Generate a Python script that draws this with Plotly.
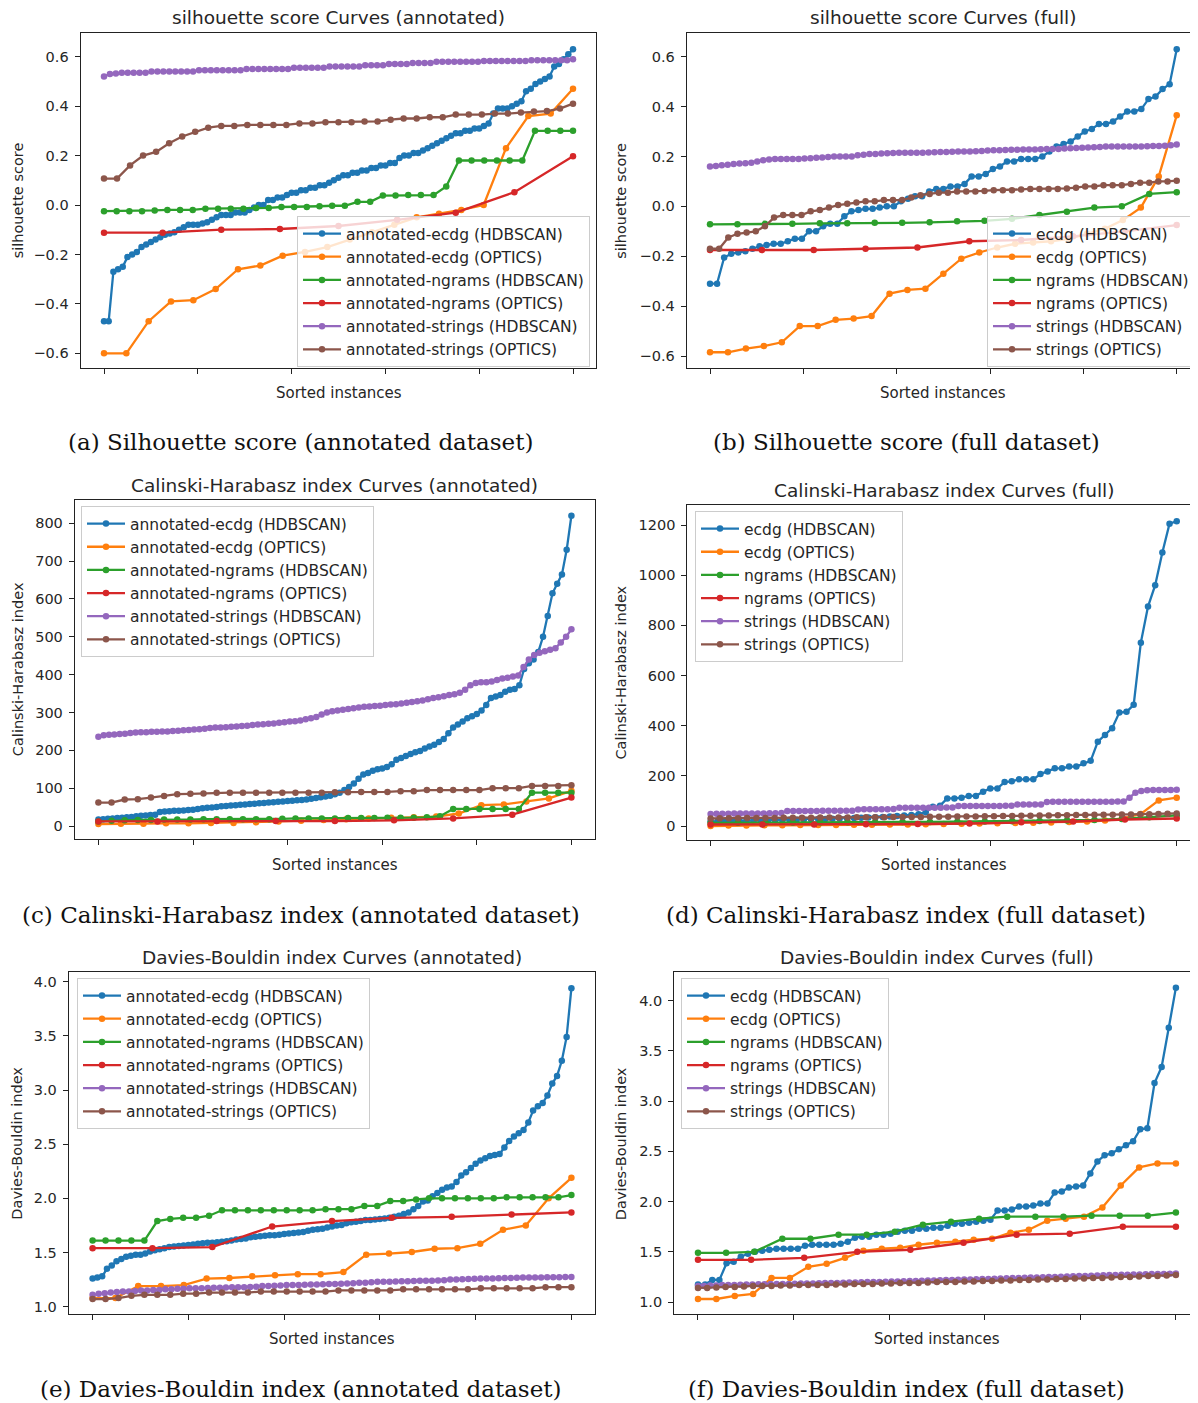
import plotly.graph_objects as go

# reference canvas; the html page adds an 8px body margin, so the figure is 8px smaller
W_REF, H_REF = 1198, 1403
OFF = 8
W, H = W_REF - OFF, H_REF - OFF

COLORS = ["#1f77b4", "#ff7f0e", "#2ca02c", "#d62728", "#9467bd", "#8c564b"]
METHODS = ["ecdg (HDBSCAN)", "ecdg (OPTICS)", "ngrams (HDBSCAN)",
           "ngrams (OPTICS)", "strings (HDBSCAN)", "strings (OPTICS)"]

X_TICKS = [0.0, 0.2, 0.4, 0.6, 0.8, 1.0]
SIL_TICKS = [-0.6, -0.4, -0.2, 0.0, 0.2, 0.4, 0.6]
CH_ANN_TICKS = [0, 100, 200, 300, 400, 500, 600, 700, 800]
CH_FULL_TICKS = [0, 200, 400, 600, 800, 1000, 1200]
DB_TICKS = [1.0, 1.5, 2.0, 2.5, 3.0, 3.5, 4.0]

# ---------------- (a) silhouette, annotated ----------------
A_ecdg_hdbscan = [-0.47, -0.47, -0.27, -0.26, -0.25, -0.21, -0.2, -0.19, -0.17, -0.16,
                  -0.15, -0.14, -0.13, -0.12, -0.115, -0.11, -0.1, -0.09, -0.08, -0.08,
                  -0.08, -0.075, -0.07, -0.06, -0.05, -0.04, -0.04, -0.04, -0.03, -0.03,
                  -0.03, -0.02, -0.01, 0.0, 0.0, 0.02, 0.02, 0.03, 0.03, 0.04,
                  0.05, 0.05, 0.06, 0.06, 0.07, 0.07, 0.08, 0.08, 0.09, 0.1,
                  0.11, 0.12, 0.12, 0.13, 0.13, 0.14, 0.14, 0.15, 0.15, 0.16,
                  0.16, 0.17, 0.17, 0.19, 0.2, 0.2, 0.21, 0.21, 0.22, 0.23,
                  0.24, 0.25, 0.26, 0.27, 0.28, 0.29, 0.29, 0.3, 0.3, 0.31,
                  0.31, 0.32, 0.33, 0.37, 0.39, 0.39, 0.39, 0.4, 0.41, 0.42,
                  0.46, 0.47, 0.49, 0.5, 0.51, 0.52, 0.56, 0.57, 0.59, 0.61,
                  0.63]
A_ecdg_optics = [-0.6, -0.6, -0.47, -0.39, -0.385, -0.34, -0.26, -0.245, -0.205, -0.19,
                 -0.17, -0.14, -0.11, -0.08, -0.05, -0.035, -0.02, 0.0, 0.23, 0.36,
                 0.37, 0.47]
A_ngrams_hdbscan = [-0.025, -0.025, -0.025, -0.025, -0.022, -0.02, -0.02, -0.02, -0.015, -0.015,
                    -0.015, -0.015, -0.012, -0.012, -0.008, -0.008, -0.008, -0.005, -0.003, -0.003,
                    0.013, 0.013, 0.038, 0.038, 0.04, 0.04, 0.04, 0.075, 0.18, 0.18,
                    0.18, 0.18, 0.18, 0.18, 0.3, 0.3, 0.3, 0.3]
A_ngrams_optics = [-0.112, -0.112, -0.1, -0.097, -0.085, -0.06, -0.031, 0.052, 0.197]
A_strings_hdbscan = [0.52, 0.53, 0.532, 0.535, 0.535, 0.535, 0.535, 0.535, 0.54, 0.54,
                     0.54, 0.54, 0.54, 0.54, 0.54, 0.54, 0.545, 0.545, 0.545, 0.545,
                     0.545, 0.545, 0.545, 0.545, 0.55, 0.55, 0.55, 0.55, 0.55, 0.55,
                     0.55, 0.55, 0.555, 0.555, 0.555, 0.555, 0.555, 0.555, 0.56, 0.56,
                     0.56, 0.56, 0.56, 0.56, 0.565, 0.565, 0.565, 0.565, 0.57, 0.57,
                     0.57, 0.57, 0.575, 0.575, 0.575, 0.575, 0.58, 0.58, 0.58, 0.58,
                     0.58, 0.58, 0.58, 0.58, 0.583, 0.583, 0.583, 0.583, 0.583, 0.583,
                     0.583, 0.583, 0.586, 0.586, 0.586, 0.586, 0.586, 0.586, 0.586, 0.59]
A_strings_optics = [0.107, 0.107, 0.16, 0.2, 0.215, 0.25, 0.277, 0.296, 0.313, 0.32,
                    0.32, 0.324, 0.324, 0.324, 0.324, 0.33, 0.33, 0.335, 0.335, 0.335,
                    0.338, 0.338, 0.345, 0.35, 0.35, 0.355, 0.355, 0.366, 0.366, 0.366,
                    0.37, 0.37, 0.374, 0.378, 0.38, 0.39, 0.41]

# ---------------- (b) silhouette, full ----------------
B_ecdg_hdbscan = [-0.31, -0.31, -0.205, -0.19, -0.185, -0.18, -0.17, -0.16, -0.155, -0.15,
                  -0.15, -0.14, -0.13, -0.13, -0.1, -0.1, -0.08, -0.07, -0.07, -0.04,
                  -0.02, -0.015, -0.01, -0.01, -0.005, 0.0, 0.0, 0.02, 0.03, 0.04,
                  0.04, 0.06, 0.07, 0.07, 0.08, 0.08, 0.09, 0.12, 0.12, 0.13,
                  0.15, 0.16, 0.18, 0.18, 0.19, 0.19, 0.19, 0.2, 0.22, 0.24,
                  0.25, 0.26, 0.28, 0.3, 0.31, 0.33, 0.33, 0.34, 0.36, 0.38,
                  0.38, 0.39, 0.43, 0.44, 0.47, 0.49, 0.63]
B_ecdg_optics = [-0.585, -0.585, -0.57, -0.56, -0.545, -0.48, -0.48, -0.455, -0.45, -0.44,
                 -0.35, -0.335, -0.33, -0.27, -0.21, -0.185, -0.165, -0.15, -0.145, -0.14,
                 -0.13, -0.11, -0.09, -0.055, -0.005, 0.12, 0.365]
B_ngrams_hdbscan = [-0.072, -0.072, -0.07, -0.07, -0.068, -0.068, -0.066, -0.066, -0.064, -0.06,
                    -0.058, -0.05, -0.035, -0.022, -0.005, 0.0, 0.05, 0.057]
B_ngrams_optics = [-0.175, -0.175, -0.175, -0.17, -0.165, -0.14, -0.135, -0.12, -0.1, -0.075]
B_strings_hdbscan = [0.16, 0.162, 0.165, 0.167, 0.17, 0.172, 0.173, 0.175, 0.18, 0.185,
                     0.188, 0.19, 0.19, 0.19, 0.19, 0.19, 0.192, 0.193, 0.195, 0.196,
                     0.198, 0.2, 0.2, 0.2, 0.2, 0.205, 0.207, 0.21, 0.21, 0.212,
                     0.213, 0.214, 0.215, 0.215, 0.215, 0.215, 0.215, 0.216, 0.217, 0.218,
                     0.218, 0.219, 0.22, 0.22, 0.22, 0.221, 0.222, 0.224, 0.225, 0.225,
                     0.226, 0.227, 0.227, 0.228, 0.228, 0.228, 0.229, 0.23, 0.23, 0.23,
                     0.232, 0.233, 0.234, 0.235, 0.236, 0.237, 0.238, 0.24, 0.24, 0.24,
                     0.24, 0.24, 0.24, 0.24, 0.241, 0.242, 0.242, 0.243, 0.245, 0.248]
B_strings_optics = [-0.17, -0.17, -0.125, -0.11, -0.105, -0.1, -0.08, -0.045, -0.035, -0.035,
                    -0.035, -0.02, -0.015, -0.005, 0.005, 0.01, 0.015, 0.02, 0.02, 0.025,
                    0.025, 0.025, 0.035, 0.045, 0.05, 0.055, 0.055, 0.06, 0.06, 0.06,
                    0.062, 0.065, 0.065, 0.065, 0.068, 0.07, 0.07, 0.07, 0.07, 0.072,
                    0.075, 0.08, 0.08, 0.085, 0.085, 0.085, 0.09, 0.095, 0.095, 0.1,
                    0.1, 0.103]

# ---------------- (c) Calinski-Harabasz, annotated ----------------
C_ecdg_hdbscan = [17, 18, 19, 20, 21, 22, 23, 24, 26, 27,
                  28, 29, 30, 37, 38, 39, 40, 40, 41, 42,
                  43, 45, 47, 48, 49, 50, 52, 53, 54, 55,
                  56, 57, 58, 59, 60, 61, 62, 63, 64, 65,
                  66, 67, 68, 69, 70, 72, 74, 76, 78, 80,
                  84, 88, 95, 103, 112, 125, 136, 140, 146, 150,
                  152, 156, 163, 175, 180, 185, 190, 195, 198, 205,
                  210, 215, 222, 230, 245, 260, 268, 276, 285, 290,
                  296, 305, 320, 338, 342, 346, 355, 360, 362, 372,
                  415, 430, 440, 460, 500, 555, 615, 640, 665, 730,
                  820]
C_ecdg_optics = [5, 6, 6, 7, 7, 8, 8, 10, 12, 14,
                 16, 18, 20, 22, 23, 25, 33, 55, 57, 65,
                 73, 93]
C_ngrams_hdbscan = [12, 14, 15, 16, 16, 17, 17, 17, 18, 18,
                    18, 18, 18, 18, 19, 20, 20, 20, 20, 21,
                    21, 21, 22, 22, 22, 23, 26, 45, 45, 45,
                    45, 45, 45, 88, 88, 88, 88]
C_ngrams_optics = [12, 12, 13, 13, 13, 15, 20, 30, 75]
C_strings_hdbscan = [236, 240, 241, 242, 243, 244, 246, 247, 248, 248,
                     249, 249, 250, 250, 251, 252, 253, 254, 255, 256,
                     257, 259, 260, 260, 261, 262, 263, 264, 265, 267,
                     268, 269, 270, 271, 273, 274, 276, 277, 279, 282,
                     285, 288, 295, 300, 303, 305, 307, 309, 311, 313,
                     315, 316, 317, 318, 320, 321, 322, 324, 326, 328,
                     330, 332, 335, 338, 340, 343, 346, 348, 352, 360,
                     372, 378, 380, 380, 382, 386, 390, 392, 395, 398,
                     420, 440, 452, 458, 462, 466, 470, 485, 500, 520]
C_strings_optics = [62, 62, 70, 71, 75, 79, 84, 85, 86, 88,
                    88, 88, 88, 88, 88, 88, 88, 88, 89, 89,
                    90, 90, 90, 92, 92, 95, 95, 95, 95, 95,
                    100, 100, 100, 106, 106, 106, 108]

# ---------------- (d) Calinski-Harabasz, full ----------------
D_ecdg_hdbscan = [18, 19, 20, 20, 21, 21, 22, 22, 23, 23,
                  24, 25, 25, 26, 27, 28, 28, 29, 30, 31,
                  32, 33, 34, 35, 36, 38, 40, 42, 44, 47,
                  55, 77, 81, 110, 110, 113, 120, 120, 137, 150,
                  150, 175, 178, 186, 186, 186, 207, 217, 230, 230,
                  237, 237, 250, 260, 336, 363, 390, 452, 455, 483,
                  731, 875, 960, 1090, 1205, 1215]
D_ecdg_optics = [0, 2, 2, 3, 3, 4, 4, 4, 5, 5,
                 6, 6, 7, 8, 9, 10, 11, 12, 13, 14,
                 16, 18, 22, 30, 48, 102, 113]
D_ngrams_hdbscan = [12, 13, 13, 14, 14, 15, 15, 16, 16, 17,
                    18, 19, 20, 22, 24, 28, 35, 42]
D_ngrams_optics = [6, 6, 6, 7, 8, 10, 15, 18, 26, 30]
D_strings_hdbscan = [48, 49, 49, 49, 50, 50, 50, 50, 50, 50,
                     51, 51, 52, 60, 60, 60, 60, 60, 60, 61,
                     61, 61, 61, 61, 61, 66, 67, 67, 67, 67,
                     67, 68, 73, 73, 73, 73, 73, 73, 73, 73,
                     74, 74, 80, 80, 80, 80, 80, 80, 80, 80,
                     81, 81, 86, 86, 86, 86, 86, 96, 97, 97,
                     97, 97, 97, 97, 97, 97, 97, 97, 97, 98,
                     98, 113, 133, 140, 143, 144, 144, 144, 144, 145]
D_strings_optics = [30, 31, 31, 31, 32, 32, 32, 32, 33, 33,
                    33, 33, 34, 34, 34, 34, 35, 35, 35, 35,
                    36, 36, 36, 36, 37, 37, 37, 38, 38, 38,
                    39, 39, 40, 40, 41, 41, 42, 42, 43, 43,
                    44, 44, 45, 45, 45, 46, 46, 47, 47, 48,
                    49, 50]

# ---------------- (e) Davies-Bouldin, annotated ----------------
E_ecdg_hdbscan = [1.26, 1.27, 1.28, 1.35, 1.38, 1.42, 1.44, 1.46, 1.47, 1.48,
                  1.48, 1.49, 1.51, 1.52, 1.53, 1.54, 1.55, 1.555, 1.56, 1.565,
                  1.57, 1.575, 1.58, 1.585, 1.59, 1.59, 1.595, 1.6, 1.605, 1.61,
                  1.62, 1.625, 1.63, 1.64, 1.645, 1.65, 1.655, 1.66, 1.66, 1.665,
                  1.67, 1.675, 1.68, 1.685, 1.69, 1.7, 1.71, 1.715, 1.72, 1.73,
                  1.74, 1.75, 1.755, 1.77, 1.78, 1.785, 1.79, 1.8, 1.8, 1.805,
                  1.81, 1.815, 1.82, 1.83, 1.84, 1.855, 1.87, 1.9, 1.93, 1.97,
                  1.98, 2.02, 2.05, 2.08, 2.1, 2.11, 2.15, 2.21, 2.24, 2.28,
                  2.32, 2.35, 2.37, 2.39, 2.4, 2.41, 2.47, 2.53, 2.57, 2.6,
                  2.63, 2.7, 2.81, 2.85, 2.88, 2.95, 3.06, 3.13, 3.27, 3.49,
                  3.94]
E_ecdg_optics = [1.08, 1.08, 1.19, 1.19, 1.2, 1.26, 1.265, 1.28, 1.29, 1.3,
                 1.3, 1.32, 1.48, 1.49, 1.505, 1.535, 1.54, 1.58, 1.71, 1.75,
                 2.0, 2.19]
E_ngrams_hdbscan = [1.61, 1.61, 1.61, 1.61, 1.61, 1.79, 1.81, 1.82, 1.82, 1.84,
                    1.89, 1.89, 1.89, 1.89, 1.89, 1.89, 1.89, 1.89, 1.9, 1.9,
                    1.9, 1.93, 1.93, 1.975, 1.975, 1.99, 2.0, 2.0, 2.0, 2.0,
                    2.0, 2.0, 2.01, 2.01, 2.01, 2.01, 2.01, 2.03]
E_ngrams_optics = [1.54, 1.54, 1.55, 1.74, 1.79, 1.82, 1.83, 1.85, 1.87]
E_strings_hdbscan = [1.11, 1.12, 1.125, 1.13, 1.135, 1.14, 1.14, 1.145, 1.15, 1.15,
                     1.155, 1.155, 1.16, 1.16, 1.165, 1.165, 1.17, 1.17, 1.17, 1.172,
                     1.175, 1.175, 1.177, 1.18, 1.18, 1.18, 1.182, 1.185, 1.19, 1.19,
                     1.193, 1.195, 1.2, 1.2, 1.2, 1.202, 1.205, 1.205, 1.207, 1.21,
                     1.21, 1.212, 1.215, 1.217, 1.22, 1.222, 1.225, 1.23, 1.23, 1.23,
                     1.232, 1.235, 1.235, 1.237, 1.24, 1.24, 1.24, 1.243, 1.245, 1.25,
                     1.25, 1.253, 1.255, 1.258, 1.26, 1.26, 1.26, 1.262, 1.265, 1.265,
                     1.267, 1.27, 1.27, 1.27, 1.27, 1.272, 1.272, 1.273, 1.275, 1.275]
E_strings_optics = [1.07, 1.07, 1.08, 1.1, 1.11, 1.11, 1.11, 1.12, 1.12, 1.13,
                    1.13, 1.13, 1.13, 1.14, 1.14, 1.14, 1.14, 1.14, 1.14, 1.15,
                    1.15, 1.15, 1.15, 1.15, 1.16, 1.16, 1.16, 1.16, 1.16, 1.16,
                    1.17, 1.17, 1.17, 1.17, 1.17, 1.18, 1.18, 1.18]

# ---------------- (f) Davies-Bouldin, full ----------------
F_ecdg_hdbscan = [1.175, 1.175, 1.22, 1.22, 1.385, 1.4, 1.45, 1.48, 1.5, 1.51,
                  1.52, 1.53, 1.53, 1.53, 1.53, 1.56, 1.57, 1.57, 1.57, 1.57,
                  1.58, 1.6, 1.64, 1.65, 1.65, 1.67, 1.67, 1.68, 1.7, 1.71,
                  1.71, 1.73, 1.73, 1.74, 1.74, 1.76, 1.78, 1.78, 1.79, 1.8,
                  1.81, 1.82, 1.91, 1.91, 1.92, 1.95, 1.95, 1.96, 1.98, 1.98,
                  2.09, 2.1, 2.14, 2.15, 2.16, 2.28, 2.4, 2.46, 2.48, 2.52,
                  2.56, 2.6, 2.72, 2.73, 3.18, 3.34, 3.73, 4.13]
F_ecdg_optics = [1.03, 1.03, 1.06, 1.08, 1.24, 1.24, 1.35, 1.38, 1.44, 1.51,
                 1.53, 1.54, 1.57, 1.59, 1.6, 1.62, 1.63, 1.69, 1.72, 1.81,
                 1.83, 1.85, 1.94, 2.16, 2.34, 2.38, 2.38]
F_ngrams_hdbscan = [1.49, 1.49, 1.5, 1.63, 1.63, 1.67, 1.67, 1.7, 1.77, 1.8,
                    1.83, 1.85, 1.85, 1.85, 1.86, 1.86, 1.86, 1.89]
F_ngrams_optics = [1.42, 1.42, 1.44, 1.5, 1.52, 1.59, 1.67, 1.68, 1.75, 1.75]
F_strings_hdbscan = [1.16, 1.16, 1.165, 1.165, 1.17, 1.17, 1.17, 1.172, 1.174, 1.175,
                     1.176, 1.177, 1.178, 1.18, 1.18, 1.18, 1.182, 1.183, 1.185, 1.185,
                     1.186, 1.188, 1.19, 1.19, 1.192, 1.194, 1.195, 1.197, 1.198, 1.2,
                     1.2, 1.202, 1.204, 1.205, 1.207, 1.208, 1.21, 1.212, 1.214, 1.215,
                     1.217, 1.218, 1.22, 1.222, 1.224, 1.225, 1.227, 1.229, 1.23, 1.232,
                     1.234, 1.236, 1.238, 1.24, 1.242, 1.244, 1.245, 1.247, 1.249, 1.25,
                     1.252, 1.254, 1.256, 1.258, 1.26, 1.262, 1.264, 1.266, 1.268, 1.27,
                     1.271, 1.272, 1.274, 1.275, 1.277, 1.278, 1.279, 1.28, 1.282, 1.285]
F_strings_optics = [1.14, 1.14, 1.145, 1.15, 1.15, 1.155, 1.16, 1.16, 1.16, 1.165,
                    1.165, 1.17, 1.17, 1.17, 1.17, 1.175, 1.175, 1.18, 1.18, 1.18,
                    1.185, 1.185, 1.19, 1.19, 1.19, 1.195, 1.2, 1.2, 1.2, 1.205,
                    1.205, 1.21, 1.21, 1.215, 1.215, 1.22, 1.22, 1.225, 1.225, 1.23,
                    1.23, 1.235, 1.235, 1.24, 1.24, 1.245, 1.25, 1.25, 1.255, 1.26,
                    1.26, 1.265, 1.27]

# ---------------- panel layout (pixel geometry measured on the reference) ----------------
panels = [
    dict(series=[A_ecdg_hdbscan, A_ecdg_optics, A_ngrams_hdbscan, A_ngrams_optics, A_strings_hdbscan, A_strings_optics],
         prefix="annotated-", title="silhouette score Curves (annotated)", ylabel="silhouette score",
         caption="(a) Silhouette score (annotated dataset)", yticks=SIL_TICKS, fmt=".1f",
         px=(104.0, 573.0), cal=(0.6, 56.7, -0.6, 353.3), box=(33.3, 368.3),
         legend=(297, 216), title_y=18, xlabel_y=393, ylabel_x=17.5, cap_pos=(300, 442)),
    dict(series=[B_ecdg_hdbscan, B_ecdg_optics, B_ngrams_hdbscan, B_ngrams_optics, B_strings_hdbscan, B_strings_optics],
         prefix="", title="silhouette score Curves (full)", ylabel="silhouette score",
         caption="(b) Silhouette score (full dataset)", yticks=SIL_TICKS, fmt=".1f",
         px=(710.0, 1176.7), cal=(0.6, 56.7, -0.6, 356.0), box=(33.3, 368.3),
         legend=(987, 216), title_y=18, xlabel_y=393, ylabel_x=621, cap_pos=(906, 442)),
    dict(series=[C_ecdg_hdbscan, C_ecdg_optics, C_ngrams_hdbscan, C_ngrams_optics, C_strings_hdbscan, C_strings_optics],
         prefix="annotated-", title="Calinski-Harabasz index Curves (annotated)", ylabel="Calinski-Harabasz index",
         caption="(c) Calinski-Harabasz index (annotated dataset)", yticks=CH_ANN_TICKS, fmt="d",
         px=(98.4, 571.4), cal=(800, 523.3, 0, 826.0), box=(500.0, 839.3),
         legend=(81, 506), title_y=485, xlabel_y=865, ylabel_x=17.5, cap_pos=(301, 915)),
    dict(series=[D_ecdg_hdbscan, D_ecdg_optics, D_ngrams_hdbscan, D_ngrams_optics, D_strings_hdbscan, D_strings_optics],
         prefix="", title="Calinski-Harabasz index Curves (full)", ylabel="Calinski-Harabasz index",
         caption="(d) Calinski-Harabasz index (full dataset)", yticks=CH_FULL_TICKS, fmt="d",
         px=(710.6, 1176.7), cal=(1200, 525.0, 0, 826.0), box=(505.0, 840.0),
         legend=(695, 511), title_y=491, xlabel_y=865, ylabel_x=620, cap_pos=(906, 915)),
    dict(series=[E_ecdg_hdbscan, E_ecdg_optics, E_ngrams_hdbscan, E_ngrams_optics, E_strings_hdbscan, E_strings_optics],
         prefix="annotated-", title="Davies-Bouldin index Curves (annotated)", ylabel="Davies-Bouldin index",
         caption="(e) Davies-Bouldin index (annotated dataset)", yticks=DB_TICKS, fmt=".1f",
         px=(92.6, 571.4), cal=(4.0, 981.7, 1.0, 1306.7), box=(972.3, 1314.0),
         legend=(77, 978), title_y=957, xlabel_y=1339, ylabel_x=17.5, cap_pos=(301, 1389)),
    dict(series=[F_ecdg_hdbscan, F_ecdg_optics, F_ngrams_hdbscan, F_ngrams_optics, F_strings_hdbscan, F_strings_optics],
         prefix="", title="Davies-Bouldin index Curves (full)", ylabel="Davies-Bouldin index",
         caption="(f) Davies-Bouldin index (full dataset)", yticks=DB_TICKS, fmt=".1f",
         px=(698.0, 1175.9), cal=(4.0, 1000.7, 1.0, 1302.0), box=(972.3, 1314.0),
         legend=(681, 978), title_y=957, xlabel_y=1339, ylabel_x=621, cap_pos=(906, 1389)),
]

SANS = "DejaVu Sans"
SERIF = "DejaVu Serif"
TXT = "#262626"
AX = "#222222"


def fx(p):
    return (p - OFF) / W


def fy(q):
    return 1 - (q - OFF) / H


def x_domain(p0, p1):
    span = p1 - p0
    left = p0 - 0.05 * span
    right = min(p1 + 0.05 * span, W_REF)
    return [fx(left), fx(right)], [(left - p0) / span, (right - p0) / span]


def y_domain(v1, q1, v2, q2, top, bot):
    k = (v1 - v2) / (q2 - q1)
    vtop = v1 + (q1 - top) * k
    vbot = v2 - (bot - q2) * k
    return [fy(bot), fy(top)], [vbot, vtop]


fig = go.Figure()
layout = dict(width=W, height=H, margin=dict(l=0, r=0, t=0, b=0),
              paper_bgcolor="white", plot_bgcolor="white",
              font=dict(family=SANS, color=TXT), showlegend=True)
annotations = []

for k, p in enumerate(panels, start=1):
    sfx = "" if k == 1 else str(k)
    leg = "legend" + sfx
    xd, xr = x_domain(*p["px"])
    yd, yr = y_domain(*p["cal"], *p["box"])
    left_col = p["px"][0] < 600

    for vals, name, col in zip(p["series"], METHODS, COLORS):
        n = len(vals)
        xs = [i / (n - 1) for i in range(n)]
        fig.add_trace(go.Scatter(
            x=xs, y=vals, mode="lines+markers", name=p["prefix"] + name,
            line=dict(color=col, width=2.3), marker=dict(color=col, size=6.5),
            xaxis="x" + sfx, yaxis="y" + sfx, legend=leg, hoverinfo="skip"))

    layout["xaxis" + sfx] = dict(domain=xd, range=xr, anchor="y" + sfx, tickvals=X_TICKS,
                                 showticklabels=False, ticks="outside", ticklen=5, tickwidth=1,
                                 tickcolor=AX, showline=True, linecolor=AX, linewidth=1,
                                 mirror=True, showgrid=False, zeroline=False)
    layout["yaxis" + sfx] = dict(domain=yd, range=yr, anchor="x" + sfx, tickvals=p["yticks"],
                                 tickformat=p["fmt"], ticks="outside", ticklen=5, tickwidth=1,
                                 tickcolor=AX, showline=True, linecolor=AX, linewidth=1,
                                 mirror=left_col, showgrid=False, zeroline=False,
                                 ticklabelstandoff=3,
                                 tickfont=dict(family=SANS, size=14.5, color=TXT))
    layout[leg] = dict(x=fx(p["legend"][0]), y=fy(p["legend"][1]), xref="paper", yref="paper",
                       xanchor="left", yanchor="top", bgcolor="rgba(255,255,255,0.8)",
                       bordercolor="#cccccc", borderwidth=1, itemwidth=38, tracegroupgap=0,
                       font=dict(family=SANS, size=15.5, color=TXT))

    cx = (p["px"][0] + p["px"][1]) / 2
    box_mid = (p["box"][0] + p["box"][1]) / 2
    annotations += [
        dict(text=p["title"], x=fx(cx), y=fy(p["title_y"]), xref="paper", yref="paper",
             xanchor="center", yanchor="middle", showarrow=False,
             font=dict(family=SANS, size=18.5, color=TXT)),
        dict(text="Sorted instances", x=fx(cx), y=fy(p["xlabel_y"]), xref="paper", yref="paper",
             xanchor="center", yanchor="middle", showarrow=False,
             font=dict(family=SANS, size=15, color=TXT)),
        dict(text=p["ylabel"], x=fx(p["ylabel_x"]), y=fy(box_mid), xref="paper", yref="paper",
             xanchor="center", yanchor="middle", textangle=-90, showarrow=False,
             font=dict(family=SANS, size=14.5, color=TXT)),
        dict(text=p["caption"], x=fx(p["cap_pos"][0]), y=fy(p["cap_pos"][1]),
             xref="paper", yref="paper", xanchor="center", yanchor="middle", showarrow=False,
             font=dict(family=SERIF, size=23, color="#111111")),
    ]

layout["annotations"] = annotations
fig.update_layout(**layout)
fig.write_html("out.html")
